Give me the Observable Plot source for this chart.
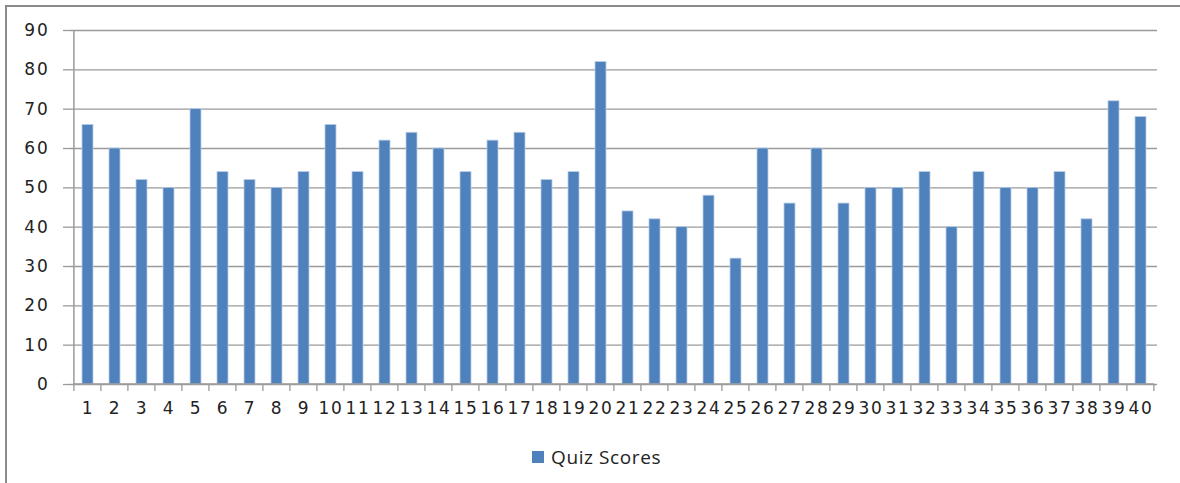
<!DOCTYPE html>
<html>
<head>
<meta charset="utf-8">
<script src="https://cdn.jsdelivr.net/npm/d3@7"></script>
<script src="https://cdn.jsdelivr.net/npm/@observablehq/plot@0.6"></script>
<style>
  html, body { margin: 0; padding: 0; background: #fff; }
  #wrap { position: relative; width: 1180px; height: 483px; overflow: hidden; }
  #border { position: absolute; left: 5px; top: 5px; width: 1200px; height: 600px; border-left: 2px solid #8a8a8a; border-top: 2px solid #8a8a8a; box-sizing: border-box; pointer-events: none; }
  #legend { position: absolute; left: 532px; top: 444px; display: flex; align-items: center; font-family: "Open Sans", sans-serif; font-size: 19px; color: #222; letter-spacing: 0.6px; }
  #legend .sw { width: 12px; height: 12px; background: #4F81BD; margin-right: 7px; }
  #chart svg text { letter-spacing: 1.8px; }
</style>
</head>
<body>
<div id="wrap">
  <div id="chart"></div>
  <div id="border"></div>
  <div id="legend"><div class="sw"></div><span>Quiz Scores</span></div>
</div>
<script>
const students = ["1","2","3","4","5","6","7","8","9","10","11","12","13","14","15","16","17","18","19","20","21","22","23","24","25","26","27","28","29","30","31","32","33","34","35","36","37","38","39","40"];
const scores = [66,60,52,50,70,54,52,50,54,66,54,62,64,60,54,62,64,52,54,82,44,42,40,48,32,60,46,60,46,50,50,54,40,54,50,50,54,42,72,68];
const yTicks = [0,10,20,30,40,50,60,70,80,90];
const seriesName = "Quiz Scores";

const data = students.map((s, i) => ({student: s, score: scores[i], series: seriesName}));

const boundaryTicks = (index, scales, values, dims) => {
  const g = d3.create("svg:g");
  const x = scales.x;
  const step = x.step();
  const y0 = scales.y(0);
  const left = x(students[0]) - x.paddingOuter() * step;
  const bounds = d3.range(students.length + 1).map(i => left + i * step);
  g.selectAll("line.t").data(bounds).join("line")
    .attr("x1", d => d).attr("x2", d => d)
    .attr("y1", y0).attr("y2", y0 + 7)
    .attr("stroke", "#9a9a9a").attr("stroke-width", 1.3);
  g.append("line")
    .attr("x1", left).attr("x2", bounds[bounds.length - 1])
    .attr("y1", y0).attr("y2", y0)
    .attr("stroke", "#9a9a9a").attr("stroke-width", 1.5);
  g.append("line")
    .attr("x1", left).attr("x2", left)
    .attr("y1", scales.y(90)).attr("y2", y0)
    .attr("stroke", "#9a9a9a").attr("stroke-width", 1.5);
  return g.node();
};

const chart = Plot.plot({
  width: 1180,
  height: 483,
  marginLeft: 70,
  marginRight: 23,
  marginTop: 30,
  marginBottom: 99,
  style: {fontFamily: "'DejaVu Sans', sans-serif", fontSize: "17px", color: "#222", background: "transparent"},
  x: {domain: students, paddingInner: 0.6, paddingOuter: 0.3, label: null},
  y: {domain: [0, 90], label: null},
  marks: [
    Plot.gridY(yTicks, {stroke: "#9a9a9a", strokeOpacity: 1, strokeWidth: 1.3}),
    Plot.axisY(yTicks, {tickSize: 7, tickPadding: 14, stroke: "#9a9a9a", strokeWidth: 1.3, fontSize: 17, label: null}),
    Plot.axisX({tickSize: 0, tickPadding: 17, fontSize: 17, label: null}),
    Plot.barY(data, {x: "student", y: "score", fill: "#4F81BD", stroke: "#B9CDE5", strokeWidth: 0.8}),
    boundaryTicks
  ]
});
document.getElementById("chart").appendChild(chart);
</script>
</body>
</html>
